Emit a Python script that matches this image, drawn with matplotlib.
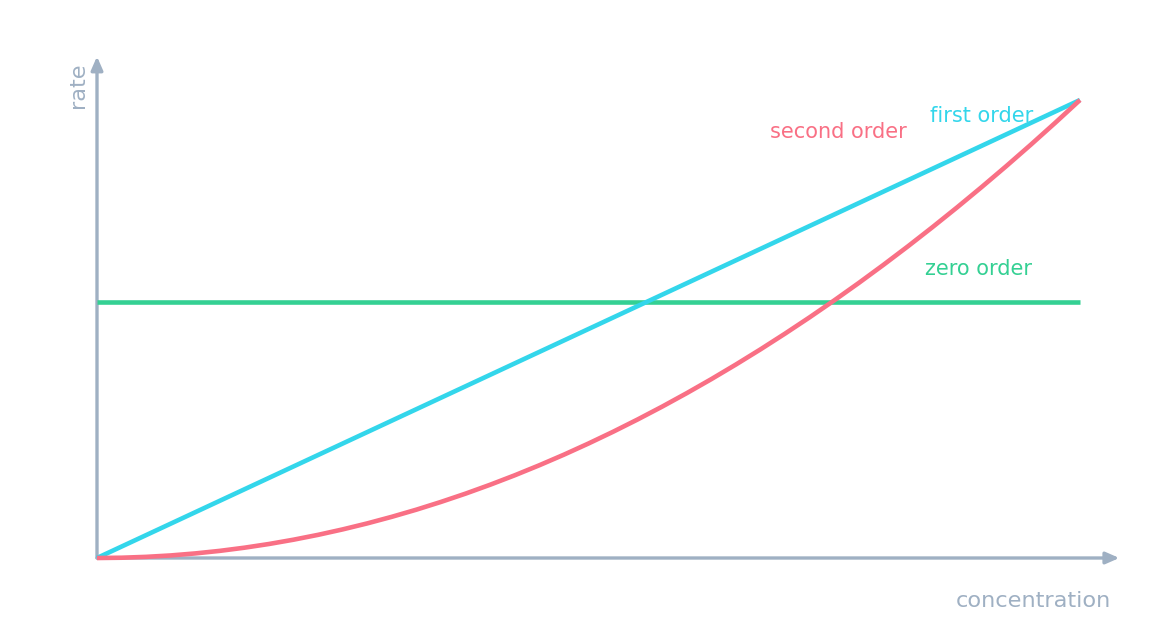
import numpy as np
import matplotlib
matplotlib.use('Agg')
import matplotlib.pyplot as plt

# concentration (normalised) and the rates
concentration = [0.000, 0.025, 0.050, 0.075, 0.100, 0.125, 0.150, 0.175, 0.200, 0.225,
                 0.250, 0.275, 0.300, 0.325, 0.350, 0.375, 0.400, 0.425, 0.450, 0.475,
                 0.500, 0.525, 0.550, 0.575, 0.600, 0.625, 0.650, 0.675, 0.700, 0.725,
                 0.750, 0.775, 0.800, 0.825, 0.850, 0.875, 0.900, 0.925, 0.950, 0.975, 1.000]
zero_order = [0.56] * len(concentration)
first_order = [0.000, 0.025, 0.050, 0.075, 0.100, 0.125, 0.150, 0.175, 0.200, 0.225,
               0.250, 0.275, 0.300, 0.325, 0.350, 0.375, 0.400, 0.425, 0.450, 0.475,
               0.500, 0.525, 0.550, 0.575, 0.600, 0.625, 0.650, 0.675, 0.700, 0.725,
               0.750, 0.775, 0.800, 0.825, 0.850, 0.875, 0.900, 0.925, 0.950, 0.975, 1.000]
second_order = [0.0000, 0.0006, 0.0025, 0.0056, 0.0100, 0.0156, 0.0225, 0.0306, 0.0400, 0.0506,
                0.0625, 0.0756, 0.0900, 0.1056, 0.1225, 0.1406, 0.1600, 0.1806, 0.2025, 0.2256,
                0.2500, 0.2756, 0.3025, 0.3306, 0.3600, 0.3906, 0.4225, 0.4556, 0.4900, 0.5256,
                0.5625, 0.6006, 0.6400, 0.6806, 0.7225, 0.7656, 0.8100, 0.8556, 0.9025, 0.9506, 1.0000]

axis_col = '#9fb0c3'
cyan = '#33d6eb'
rose = '#f97085'
green = '#34d093'

W, H = 1176, 636
fig = plt.figure(figsize=(W / 100, H / 100), dpi=100)
ax = fig.add_axes([97 / W, (H - 558) / H, 983 / W, 458 / H])
ax.set_xlim(0, 1)
ax.set_ylim(0, 1)
ax.axis('off')

# axes arrows
arrow = dict(arrowstyle='-|>,head_length=0.8,head_width=0.35',
             color=axis_col, lw=2.4, shrinkA=0, shrinkB=0)
ax.annotate('', xy=(1.04, 0), xytext=(0, 0), xycoords='data',
            arrowprops=arrow, annotation_clip=False)
ax.annotate('', xy=(0, 1.095), xytext=(0, 0), xycoords='data',
            arrowprops=arrow, annotation_clip=False)

ax.plot(concentration, zero_order, color=green, lw=3.3, solid_capstyle='butt', clip_on=False, zorder=3)
ax.plot(concentration, first_order, color=cyan, lw=3.3, solid_capstyle='butt', clip_on=False, zorder=3)
ax.plot(concentration, second_order, color=rose, lw=3.3, solid_capstyle='butt', clip_on=False, zorder=4)

ax.text(0.900, 0.965, 'first order', color=cyan, fontsize=15, ha='center', va='center')
ax.text(0.754, 0.930, 'second order', color=rose, fontsize=15, ha='center', va='center')
ax.text(0.897, 0.632, 'zero order', color=green, fontsize=15, ha='center', va='center')

fig.text(1111 / W, 1 - 601 / H, 'concentration', color=axis_col, fontsize=16.2,
         ha='right', va='center')
fig.text(78 / W, 1 - 85 / H, 'rate', color=axis_col, fontsize=16.2,
         ha='center', va='center', rotation=90)

fig.savefig('out.png', dpi=100)
